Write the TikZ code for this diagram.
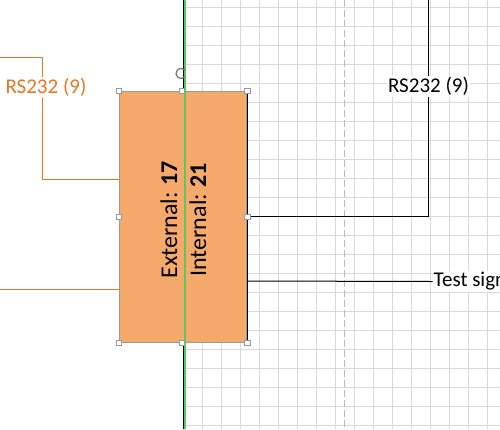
\documentclass[tikz,border=0pt]{standalone}
\usepackage{fontspec}
\setmainfont{Carlito}
\usetikzlibrary{arrows.meta}
\definecolor{gridc}{HTML}{D9D9D9}
\definecolor{boxfill}{HTML}{F5AA6B}
\definecolor{orng}{HTML}{E8751F}
\definecolor{grn}{HTML}{5CC85C}
\definecolor{hgray}{HTML}{9A9A9A}
\definecolor{dashc}{HTML}{BBBBBB}
\tikzset{
  gridline/.style={gridc, line width=0.8pt},
  boxstyle/.style={draw=hgray, fill=boxfill, line width=0.8pt, minimum width=127.4pt, minimum height=251pt, inner sep=0pt},
  handle/.style={draw=hgray, fill=white, line width=0.6pt, minimum size=5.5pt, inner sep=0pt},
  rottext/.style={rotate=90, font=\fontsize{24}{28}\selectfont, inner sep=0pt},
  lbl/.style={font=\fontsize{21}{25}\selectfont, fill=white, inner sep=1.5pt},
  blackconn/.style={black, line width=1pt},
  orangeconn/.style={orng, line width=1pt}
}
\begin{document}
\begin{tikzpicture}[x=1pt,y=-1pt]
\useasboundingbox (0,0) rectangle (500,429);
\clip (0,0) rectangle (500,429);
\fill[white] (0,0) rectangle (500,429);
% grid
\foreach \gx in {202.7,221.7,...,500} \draw[gridline] (\gx,0) -- (\gx,429);
\foreach \gy in {7.3,26.3,...,429} \draw[gridline] (184,\gy) -- (500,\gy);
% page-break dashed line
\draw[dashc, line width=1pt, dash pattern=on 7pt off 3pt] (344.7,0) -- (344.7,429);
% black margin line
\draw[black, line width=1.4pt] (183.2,0) -- (183.2,429);
% box
\node[boxstyle] (box) at (183,216.8) {};
\draw[black, line width=1.2pt] (box.north east) -- (box.south east);
% green guide
\draw[grn, line width=1.6pt] (184.8,0) -- (184.8,429);
% texts
\node[rottext] (ext) at (169,220) {External:\hspace{-1pt} \textbf{17}};
\node[rottext] (int) at (198,220) {Internal:\hspace{-1pt} \textbf{21}};
% connectors
\coordinate (o1) at (0,57.3);
\coordinate (o2) at (42.3,179);
\coordinate (o3) at (0,289.3);
\draw[orangeconn] (o1) -| (o2) -- (o2 -| box.west);
\draw[orangeconn] (o3) -- (o3 -| box.west);
\node[lbl, text=orng] (lrs) at (46,87.5) {RS232 (9)};
\coordinate (r1) at (428.7,216);
\coordinate (r0) at (428.7,0);
\draw[blackconn] (r1 -| box.east) -- (r1) -- (r0);
\node[lbl] (rrs) at (428.5,86.5) {RS232 (9)};
\coordinate (t1) at (247,281);
\node[lbl, anchor=west, inner sep=1pt] (test) at (432.5,281.5) {Test signal};
\draw[blackconn] (t1) -- (test.west);
% handles
\foreach \a in {north west,north east,west,east,south west,south east}
  \node[handle] at (box.\a) {};
\node[handle] at ([xshift=-1pt]box.north) {};
\node[handle] at ([xshift=-1pt]box.south) {};
% rotation handle
\coordinate (rot) at (181,73.5);
\draw[hgray!80!black, line width=1.3pt, -{Stealth[length=3pt,width=4pt]}] ([shift={(40:5)}]rot) arc[start angle=40, end angle=330, radius=5];
\end{tikzpicture}
\end{document}
